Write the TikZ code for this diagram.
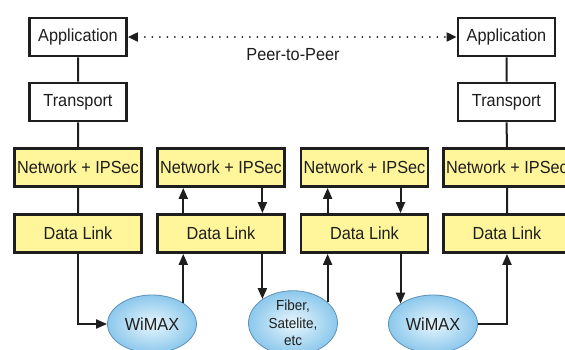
\documentclass[tikz,border=0pt]{standalone}
\usepackage{fontspec}
\setmainfont{Liberation Sans}[FakeStretch=0.93]
\usetikzlibrary{arrows.meta, shapes.geometric, calc, positioning}
\definecolor{layeryellow}{RGB}{255,246,155}
\definecolor{cloudblue}{RGB}{140,200,236}
\definecolor{cloudlight}{RGB}{232,246,253}
\definecolor{cloudedge}{RGB}{95,145,185}
\definecolor{inkgray}{RGB}{30,30,30}

\begin{document}
\begin{tikzpicture}[x=1pt, y=-1pt, text=inkgray,
                        hostbox/.style={draw=inkgray, line width=2.8pt, fill=white, minimum width=97pt, minimum height=38pt, inner sep=0pt, font=\fontsize{17.5}{19}\selectfont},
                        layerbox/.style={hostbox, fill=layeryellow, minimum width=127pt},
                        netcloud/.style={ellipse, draw=cloudedge, line width=0.8pt, inner color=cloudlight, outer color=cloudblue, minimum width=89pt, minimum height=58pt, inner sep=0pt, font=\fontsize{17.5}{19}\selectfont},
                        wire/.style={draw=inkgray, line width=2pt},
                        flow/.style={wire, -{Triangle[length=11pt,width=9pt]}}]
                        \useasboundingbox (0,0) rectangle (565,349);
                        % end hosts
                        \node[hostbox] (app1) at (78,37) {Application};
                        \node[hostbox] (trans1) at (78,102) {Transport};
                        \node[hostbox] (app2) at (506.5,37) {Application};
                        \node[hostbox] (trans2) at (506.5,102) {Transport};
                        % network and link layers
                        \node[layerbox] (net1) at (78,167.5) {Network + IPSec};
                        \node[layerbox] (dl1) at (78,233.5) {Data Link};
                        \node[layerbox] (net2) at (221,167.5) {Network + IPSec};
                        \node[layerbox] (dl2) at (221,233.5) {Data Link};
                        \node[layerbox] (net3) at (364.5,167.5) {Network + IPSec};
                        \node[layerbox] (dl3) at (364.5,233.5) {Data Link};
                        \node[layerbox] (net4) at (507,167.5) {Network + IPSec};
                        \node[layerbox] (dl4) at (507,233.5) {Data Link};
                        % links
                        \node[netcloud] (wimax1) at (152,324) {WiMAX};
                        \node[netcloud, minimum height=62pt, align=center, font=\fontsize{14.5}{17.5}\selectfont] (fiber) at (293,323) {Fiber,\\Satelite,\\etc};
                        \node[netcloud] (wimax2) at (433,324) {WiMAX};
                        \draw[wire, dash pattern=on 0pt off 7.5pt, line cap=round, {Triangle[length=10pt,width=9pt]}-{Triangle[length=10pt,width=9pt]}] (app1) -- (app2);
                        \node[font=\fontsize{17.5}{19}\selectfont] (peer) at (293,55) {Peer-to-Peer};
                        \draw[wire]
                        (app1) -- (trans1) -- (net1) -- (dl1)
                        (app2) -- (trans2) -- (net4) -- (dl4);
                        \draw[flow] (dl1) |- (wimax1);
                        \draw[flow] (wimax1.34) -- (wimax1.34 |- dl2.south);
                        \draw[flow] (wimax1.34 |- dl2.north) -- (wimax1.34 |- net2.south);
                        \draw[flow] (fiber.142 |- net2.south) -- (fiber.142 |- dl2.north);
                        \draw[flow] (fiber.142 |- dl2.south) -- (fiber.142);
                        \draw[flow] (fiber.31) -- (fiber.31 |- dl3.south);
                        \draw[flow] (fiber.31 |- dl3.north) -- (fiber.31 |- net3.south);
                        \draw[flow] (wimax2.148 |- net3.south) -- (wimax2.148 |- dl3.north);
                        \draw[flow] (wimax2.148 |- dl3.south) -- (wimax2.148);
                        \draw[flow] (wimax2) -| (dl4);
                    \end{tikzpicture}
\end{document}
